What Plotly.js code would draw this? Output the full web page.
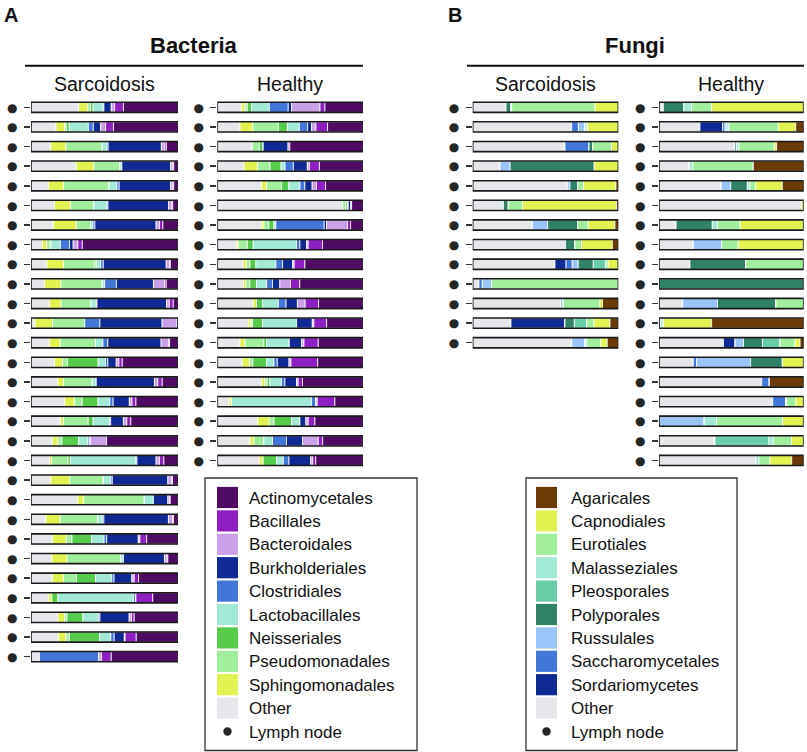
<!DOCTYPE html>
<html>
<head>
<meta charset="utf-8">
<script src="https://cdn.plot.ly/plotly-3.0.1.min.js"></script>
<style>html,body{margin:0;padding:0;background:#fff;}#chart{width:807px;height:752px;}</style>
</head>
<body>
<div id="chart"></div>
<script>
// ---------- categories (legend order) ----------
const bacteriaCategories = ['Actinomycetales','Bacillales','Bacteroidales','Burkholderiales','Clostridiales','Lactobacillales','Neisseriales','Pseudomonadales','Sphingomonadales','Other'];
const fungiCategories = ['Agaricales','Capnodiales','Eurotiales','Malasseziales','Pleosporales','Polyporales','Russulales','Saccharomycetales','Sordariomycetes','Other'];
const bacteriaColors = ['#4f0a63','#8e1fc2','#caa0e8','#0f2a94','#4277d9','#a3ead6','#57cc4c','#a1ee9c','#e2f251','#e6e7eb'];
const fungiColors = ['#6b3a06','#e2f251','#a1ee9c','#a3ead6','#69cda7','#2f8268','#9bc4f8','#4277d9','#0f2a94','#e6e7eb'];
const panelTitles = ['Sarcoidosis','Healthy'];
const kingdomTitles = ['Bacteria','Fungi'];
const panelLetters = ['A','B'];
const markerLabel = 'Lymph node';
const markerGlyph = '●';

// ---------- relative abundance (%), each row in stacking order:
// Bacteria: Other, Sphingomonadales, Pseudomonadales, Neisseriales, Lactobacillales, Clostridiales, Burkholderiales, Bacteroidales, Bacillales, Actinomycetales
const bacteriaSarcoidosis = [
 [32.5,6.2,1.8,1.8,6.8,0.5,5,2.3,6,37.1],
 [17,6,1,2,13,3.4,5,3.4,5.3,43.9],
 [13.5,10.3,24.7,0,3,1,36.2,2.3,1.1,7.9],
 [30.7,12.1,17.6,0,1.4,0,33.2,1.6,0.5,2.9],
 [11.9,10.3,30.9,0,5.3,1.6,35,1.6,0.5,2.9],
 [16,10.8,16,0,8.7,0.9,41.2,2.3,0.5,3.6],
 [15.3,15.6,9.6,0,1.6,1.4,41.6,2.3,2.3,10.3],
 [7.8,3,2.3,0.5,6.4,6.2,2.5,3.2,3,65.1],
 [10.8,11.4,21.3,0.9,3,1.8,42.8,2.3,0.5,5.2],
 [9.2,11.2,28.1,0,1.6,8,25.2,7.6,1.1,8],
 [12.6,7.8,20.6,0,3.4,0.5,47.4,1.8,2.7,3.2],
 [2.7,11.9,22,0,0,10.3,42.3,10.3,0,0.5],
 [12.6,7.3,24,0,5,3.4,36.2,5.3,0.5,5.7],
 [16,5.5,3.4,20.8,5,1.6,5.7,1.8,2.3,37.9],
 [18.3,3.9,19.5,0,2.7,0,39.6,2.3,3,10.7],
 [22.9,6.6,5.3,10.8,8,2.3,11,1.8,2.7,28.6],
 [19.9,2.3,16.7,3.4,11.2,0.7,8.7,2.3,2.7,32.1],
 [14.6,3.7,2.7,11.4,6.4,1.1,0.5,11,0,48.6],
 [12.6,1.6,11,1.6,44.6,0.7,13,2.3,3,9.6],
 [13.5,12.8,22.9,0,5,1.1,37.8,2.7,0.5,3.7],
 [31.8,4.1,41.2,0,6.2,0,9.8,1.6,0,5.3],
 [10.1,9.8,25.6,0,3,1.1,43.9,3,0.5,3],
 [14.6,9.4,3.9,13.3,8.5,1.8,21.5,1.1,4.6,21.3],
 [14.2,10.3,36.6,0,1.8,0,27.9,1.8,0.5,6.9],
 [14.6,7.6,8.7,13,11,1.6,12.1,1.6,3,26.8],
 [11.9,2.3,0,4.1,51.5,1.6,0,0,11.4,17.2],
 [18.3,4.6,1.6,10.8,10.5,1.1,19.9,1.6,1.8,29.8],
 [18.8,5,2.3,20.6,7.6,2.3,6.9,0.5,7.6,28.4],
 [5.7,0,0,0,0,40.5,0,1.8,6.6,45.4]
];
const bacteriaHealthy = [
 [16.7,2.3,1.6,3,12.1,13,2.3,19.5,3.4,26.1],
 [15.6,8.7,17.6,6.2,8.2,5.7,2.7,3,8,24.3],
 [24,0,4.8,2.7,0,0,17.2,0,1.1,50.2],
 [18.3,9.4,8.5,7.6,2.7,5.7,9.6,1.4,6.9,29.9],
 [30.4,3.4,10.3,5,7.6,3.4,5,3,6.2,25.7],
 [86,0,2.1,1.1,0.7,0,1.6,0.7,0,7.8],
 [30.4,1.6,3.4,3.4,1.4,33.2,1.6,14.4,2.1,8.5],
 [13.3,1.1,6.2,4.1,29.7,2.3,4.6,1.1,9.8,27.8],
 [17.8,2.3,2.3,4.1,13.7,4.6,6.9,1.1,7.3,39.9],
 [17.8,1.8,2.7,4.6,6.9,4.1,5,7.3,6.4,43.4],
 [24.7,2.3,0,4.1,10.8,5.3,7.8,5.3,9.2,30.5],
 [21.3,1.8,1.1,6.9,23.3,0,10.8,1.1,8.7,25],
 [15.6,3.4,13,1.8,15.6,0,8.5,1.6,9.8,30.7],
 [17.2,4.8,2.3,9.6,5,2.3,8,1.4,18.3,31.1],
 [30.4,2.3,1.6,1.8,8,2.3,8,1.1,3,41.5],
 [8.2,1.6,0,0,54.9,3,0,0.9,12.1,19.3],
 [27.7,8,3.2,12.1,5.7,0,4.1,1.6,4.6,33],
 [22.4,2.7,6.9,0,5.9,9.6,11,10.8,3,27.7],
 [28.8,2.7,0,9.2,4.6,3.9,14.9,1.4,2.1,32.4]
];
// Fungi: Other, Sordariomycetes, Saccharomycetales, Russulales, Polyporales, Pleosporales, Malasseziales, Eurotiales, Capnodiales, Agaricales
const fungiSarcoidosis = [
 [22.9,0,0,0,3.4,0,0.5,57.2,16,0],
 [68,0,4.6,4.6,0,0,1.6,0,21.2,0],
 [63.4,0,16.5,0,2.5,0,0,13,4.6,0],
 [18.8,0,0,6.9,57.9,0,0,0,16.4,0],
 [65,0,0,1.8,5.3,0,0,3.9,22.4,1.6],
 [21.1,0,0,0,3.4,0,0,9.8,64.6,1.1],
 [41,0,0,10.5,20.6,0,0,7.3,18.3,2.3],
 [63.8,0,0,0,6.4,0,0,4.6,21.1,4.1],
 [56.5,7.6,4.3,4.1,10.3,8.7,0,1.6,6.9,0],
 [4.3,0,2.3,6.4,0,0,0,87,0,0],
 [60.4,0,0,1.8,0,0,0,25.2,1.8,10.8],
 [26.3,37.1,0,0,6.4,8.5,0,5,11,5.7],
 [68,0,0,9.2,0,0,1.1,9.8,4.3,7.6]
];
const fungiHealthy = [
 [3,0,0,0,14.3,0,5.3,13.8,63.6,0],
 [28.3,15.7,1.6,1.2,0,0,1.6,34.1,12,5.5],
 [52.5,0,0,0,1.2,0,1.6,24.4,1.6,18.7],
 [21,0,0,0,0,0,2.3,41.9,0,34.8],
 [42.9,0,0,6.7,11.5,0,1.8,3.9,18.4,14.8],
 [98.6,0,0,0,0,0,0,0,1.4,0],
 [11.8,0,0,0,25.1,0,3.5,15.7,43.9,0],
 [23.7,0,0,19.6,0,0,0,11.5,45.2,0],
 [21.4,0,0,0,38.7,0,0,39.9,0,0],
 [0,0,0,0,100,0,0,0,0,0],
 [16.4,0,0,24,40.5,0,0,19.1,0,0],
 [1.2,0,0,0,0,0,1.8,0,33.4,63.6],
 [44.5,8.1,0,5.8,13.1,12.2,0,10.4,3.4,2.5],
 [23.7,0,2.3,37.3,22,0,0,0,14.7,0],
 [71,0,5.3,0,0,0,0,0,0,23.7],
 [78.6,0,9,0,0,0,0.7,6.2,5.5,0],
 [0,0,0,31.3,0,0,8.5,45.7,14.5,0],
 [38.7,0,0,0,0,37.3,3,12.7,8.3,0],
 [67,0,0,0,0,0,2.1,7.6,15,8.3]
];

// ---------- geometry helpers (pixel -> paper) ----------
const W = 807, H = 752;
const px = p => p / W;
const py = p => 1 - p / H;
const FONT = '"Liberation Sans", Arial, Helvetica, sans-serif';
const MAXROWS = 29;
const ROW0 = 107.3, ROWSTEP = 19.62;
const yDomain = [py(ROW0 - ROWSTEP/2 + MAXROWS*ROWSTEP), py(ROW0 - ROWSTEP/2)];

const panels = [
  {rows: bacteriaSarcoidosis, cats: bacteriaCategories, colors: bacteriaColors, x0: 31, x1: 178},
  {rows: bacteriaHealthy, cats: bacteriaCategories, colors: bacteriaColors, x0: 217.3, x1: 363},
  {rows: fungiSarcoidosis, cats: fungiCategories, colors: fungiColors, x0: 472.7, x1: 618.3},
  {rows: fungiHealthy, cats: fungiCategories, colors: fungiColors, x0: 659, x1: 803.7}
];

const traces = [];
const layout = {
  width: W, height: H,
  margin: {l: 0, r: 0, t: 0, b: 0},
  paper_bgcolor: '#fff', plot_bgcolor: 'rgba(0,0,0,0)',
  barmode: 'overlay',
  showlegend: false,
  font: {family: FONT, color: '#111'},
  shapes: [], annotations: []
};

panels.forEach((p, i) => {
  const k = i === 0 ? '' : String(i + 1);
  const xa = 'x' + k, ya = 'y' + k;
  const n = p.rows.length;
  const yv = p.rows.map((_, r) => r + 1);
  // stacking order is the reverse of legend order
  const stackCats = p.cats.slice().reverse();
  const stackColors = p.colors.slice().reverse();
  let cum = new Array(n).fill(0);
  stackCats.forEach((c, j) => {
    const xs = p.rows.map(r => r[j]);
    traces.push({
      type: 'bar', orientation: 'h', name: c,
      x: xs, y: yv, base: cum.slice(), width: 0.52,
      xaxis: xa, yaxis: ya,
      marker: {color: stackColors[j], line: {color: '#ffffff', width: 0.8}},
      hoverinfo: 'name+x'
    });
    cum = cum.map((v, r) => v + xs[r]);
  });
  // bar outline
  traces.push({
    type: 'bar', orientation: 'h', x: cum, y: yv, base: new Array(n).fill(0), width: 0.52,
    xaxis: xa, yaxis: ya, hoverinfo: 'skip',
    marker: {color: 'rgba(0,0,0,0)', line: {color: '#1a1a1a', width: 1.6}}
  });
  layout['xaxis' + k] = {domain: [px(p.x0), px(p.x1)], range: [0, 100], anchor: ya, visible: false, fixedrange: true};
  // each sample is a lymph node: tick + dot label per row
  layout['yaxis' + k] = {
    domain: yDomain, range: [MAXROWS + 0.5, 0.5], anchor: xa,
    showgrid: false, zeroline: false, showline: false, showticklabels: true,
    ticks: 'outside', ticklen: 6, tickwidth: 1.5, tickcolor: '#333',
    tickmode: 'array', tickvals: yv, ticktext: yv.map(() => markerGlyph),
    tickfont: {family: '"DejaVu Sans", sans-serif', size: 12, color: '#262626'},
    ticklabelstandoff: 4, fixedrange: true
  };
});

// ---------- headers ----------
function addText(text, x, y, size, opts) {
  layout.annotations.push(Object.assign({
    text: text, xref: 'paper', yref: 'paper', x: px(x), y: py(y),
    xanchor: 'center', yanchor: 'middle', showarrow: false,
    font: {family: FONT, size: size, color: '#111'}
  }, opts || {}));
}
const headerSpec = [
  {letterX: 1.5, titleX: 194, lineX0: 25, lineX1: 363, subX: [104.5, 290.2]},
  {letterX: 446, titleX: 635, lineX0: 467, lineX1: 804, subX: [545.5, 731.4]}
];
headerSpec.forEach((h, i) => {
  addText('<b>' + panelLetters[i] + '</b>', h.letterX, 15, 20, {xanchor: 'left'});
  addText('<b>' + kingdomTitles[i] + '</b>', h.titleX, 45, 22);
  layout.shapes.push({type: 'line', xref: 'paper', yref: 'paper',
    x0: px(h.lineX0), x1: px(h.lineX1), y0: py(65.7), y1: py(65.7),
    line: {color: '#111', width: 2}});
  panelTitles.forEach((t, j) => addText(t, h.subX[j], 84, 19.5));
});

// ---------- legends ----------
const legendSpec = [
  {cats: bacteriaCategories, colors: bacteriaColors, box: [205, 417], sw: 217, tx: 246.5},
  {cats: fungiCategories, colors: fungiColors, box: [526, 737], sw: 536, tx: 569}
];
const LEG0 = 497.5, LEGSTEP = 23.4;
legendSpec.forEach(L => {
  layout.shapes.push({type: 'rect', xref: 'paper', yref: 'paper',
    x0: px(L.box[0]), x1: px(L.box[1]), y0: py(478), y1: py(750.5),
    line: {color: '#333', width: 1.3}, fillcolor: 'rgba(0,0,0,0)'});
  L.cats.forEach((c, k) => {
    const cy = LEG0 + k * LEGSTEP;
    layout.shapes.push({type: 'rect', xref: 'paper', yref: 'paper',
      x0: px(L.sw), x1: px(L.sw + 21), y0: py(cy + 10.6), y1: py(cy - 10.6),
      line: {width: 0}, fillcolor: L.colors[k]});
    addText(c, L.tx, cy + 0.5, 17, {xanchor: 'left'});
  });
  const cy = LEG0 + L.cats.length * LEGSTEP;
  layout.shapes.push({type: 'circle', xref: 'paper', yref: 'paper',
    x0: px(L.sw + 10.5 - 4.2), x1: px(L.sw + 10.5 + 4.2), y0: py(cy + 4.2), y1: py(cy - 4.2),
    line: {width: 0}, fillcolor: '#262626'});
  addText(markerLabel, L.tx, cy + 0.5, 17, {xanchor: 'left'});
});

Plotly.newPlot('chart', traces, layout, {displayModeBar: false, staticPlot: true});
</script>
</body>
</html>
